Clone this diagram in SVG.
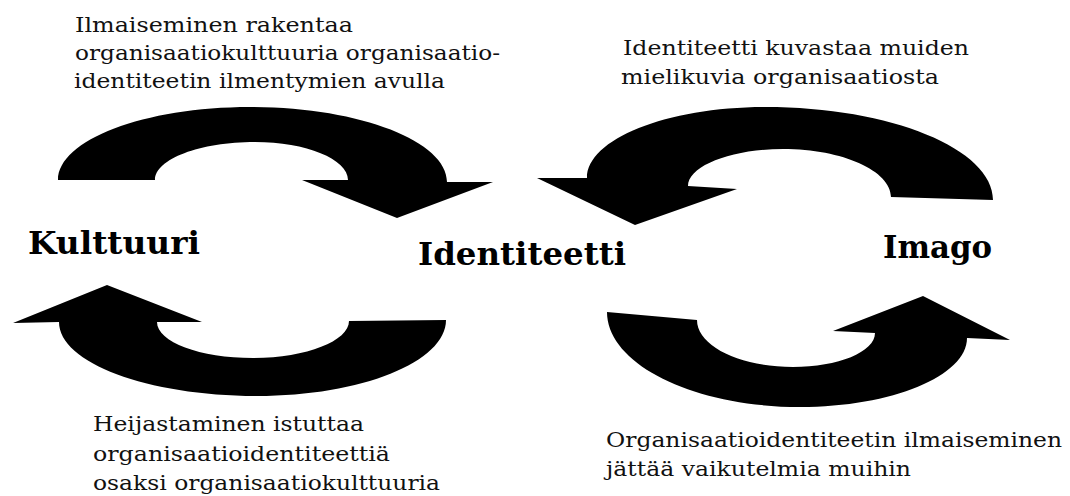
<svg xmlns="http://www.w3.org/2000/svg" width="1070" height="496" viewBox="0 0 1070 496">
<style>
.node{font-family:"DejaVu Serif","Liberation Serif",serif;font-weight:bold;font-size:32px;fill:#000}
.note{font-family:"DejaVu Serif","Liberation Serif",serif;font-size:21px;fill:#111}
.arrow{fill:#000;stroke:none}
</style>
<rect width="1070" height="496" fill="#fff"/>
<g id="connectors">
<path id="arrow-kulttuuri-identiteetti" class="arrow" d="M58,180 C58,140 144,107 250,107 C359,107 447,141 447,182 L493,182 L397,218 L302,180 L348,180 C348,159 306,142 255,142 C200,142 155,159 155,180 Z"/>
<path id="arrow-imago-identiteetti" class="arrow" d="M993,200 C993,149 891,107 765,107 C667,107 587,139 587,178 L537,178 L635,225 L737,189 L688,186 C688,166 731,149 783,149 C843,149 891,171 891,197 Z"/>
<path id="arrow-identiteetti-kulttuuri" class="arrow" d="M13,323 L107,285 L202,322 L157,322 C157,342 200,358 253,358 C306,358 349,341 349,321 L446,320 C446,362 361,396 257,396 C148,396 59,363 59,322 Z"/>
<path id="arrow-identiteetti-imago" class="arrow" d="M607,312 L697,320 C697,346 740,367 793,367 C838,367 875,352 875,333 L833,331 L923,296 L1010,340 L967,338 C967,376 892,407 800,407 C693,407 607,364 607,312 Z"/>
</g>
<g id="label-top-left" class="note">
<text x="75" y="32" textLength="278" lengthAdjust="spacingAndGlyphs">Ilmaiseminen rakentaa</text>
<text x="75" y="60" textLength="425" lengthAdjust="spacingAndGlyphs">organisaatiokulttuuria organisaatio-</text>
<text x="74" y="88" textLength="371" lengthAdjust="spacingAndGlyphs">identiteetin ilmentymien avulla</text>
</g>
<g id="label-top-right" class="note">
<text x="623" y="55" textLength="346" lengthAdjust="spacingAndGlyphs">Identiteetti kuvastaa muiden</text>
<text x="621" y="84" textLength="318" lengthAdjust="spacingAndGlyphs">mielikuvia organisaatiosta</text>
</g>
<g id="label-bottom-left" class="note">
<text x="93" y="431" textLength="271" lengthAdjust="spacingAndGlyphs">Heijastaminen istuttaa</text>
<text x="93" y="461" textLength="297" lengthAdjust="spacingAndGlyphs">organisaatioidentiteettiä</text>
<text x="93" y="490" textLength="347" lengthAdjust="spacingAndGlyphs">osaksi organisaatiokulttuuria</text>
</g>
<g id="label-bottom-right" class="note">
<text x="606" y="447" textLength="456" lengthAdjust="spacingAndGlyphs">Organisaatioidentiteetin ilmaiseminen</text>
<text x="606" y="476" textLength="305" lengthAdjust="spacingAndGlyphs">jättää vaikutelmia muihin</text>
</g>
<g id="node-kulttuuri">
<text class="node" x="28" y="254" textLength="172" lengthAdjust="spacingAndGlyphs">Kulttuuri</text>
</g>
<g id="node-identiteetti">
<text class="node" x="418" y="265" textLength="208" lengthAdjust="spacingAndGlyphs">Identiteetti</text>
</g>
<g id="node-imago">
<text class="node" x="883" y="258" textLength="109" lengthAdjust="spacingAndGlyphs">Imago</text>
</g>
</svg>
